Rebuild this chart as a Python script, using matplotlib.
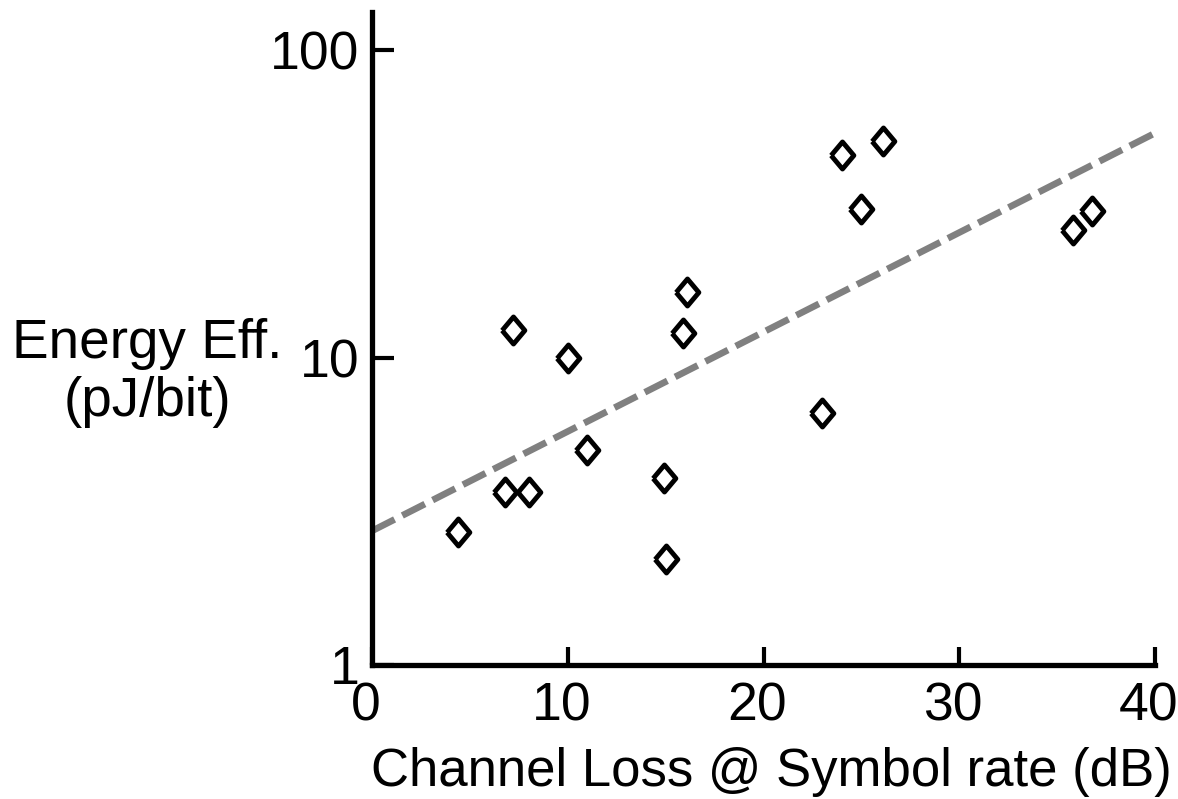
import numpy as np
import matplotlib
matplotlib.use("Agg")
import matplotlib.pyplot as plt
import matplotlib.transforms as mtransforms

plt.rcParams["font.family"] = ["Liberation Sans", "DejaVu Sans"]

# channel loss (dB) vs energy efficiency (pJ/bit)
loss = [4.4, 6.8, 8.0, 7.2, 10.0, 11.0, 14.9, 15.0, 15.9, 16.1,
        23.0, 24.0, 25.0, 26.1, 35.8, 36.8]
energy = [2.7, 3.65, 3.65, 12.3, 10.0, 5.0, 4.05, 2.22, 12.0, 16.3,
          6.6, 45.5, 30.5, 50.5, 26.0, 30.0]

# exponential trend line end points
trend_x = [0, 40]
trend_y = [2.73, 53.7]

fig = plt.figure(figsize=(11.78, 7.99), dpi=100)
ax = fig.add_axes([372 / 1178, (799 - 665) / 799, 783 / 1178, 653 / 799])

ax.plot(trend_x, trend_y, color="#808080", lw=4.8, dashes=(3.8, 1.3),
        solid_capstyle="butt", dash_capstyle="butt", zorder=1)

diamond = [(-0.42, 0), (0, 0.5), (0.42, 0), (0, -0.5), (-0.42, 0)]
ax.plot(loss, energy, ls="none", marker=diamond, ms=19.5, mfc="white",
        mec="black", mew=3.5, zorder=2)

ax.set_yscale("log")
ax.set_xlim(0, 40)
ax.set_ylim(1, 133)
ax.set_xticks([0, 10, 20, 30, 40])
ax.set_yticks([1, 10, 100])
ax.set_yticklabels(["1", "10", "100"])
ax.yaxis.set_minor_locator(matplotlib.ticker.NullLocator())

for s in ["top", "right"]:
    ax.spines[s].set_visible(False)
for s in ["left", "bottom"]:
    ax.spines[s].set_linewidth(3.8)

fs = 38.5
ax.tick_params(axis="x", direction="in", length=13, width=3, pad=12,
               labelsize=fs)
ax.tick_params(axis="y", direction="in", length=16, width=3, pad=9,
               labelsize=fs)

# nudge the x tick labels a little to the left
shift = mtransforms.ScaledTranslation(-0.06, 0, fig.dpi_scale_trans)
for lab in ax.get_xticklabels():
    lab.set_transform(lab.get_transform() + shift)

ax.set_xlabel("Channel Loss @ Symbol rate (dB)", fontsize=38, labelpad=12)
ax.xaxis.set_label_coords(0.51, -0.125)
ax.xaxis.label.set_va("top")
ax.set_ylabel("Energy Eff.\n(pJ/bit)", fontsize=39.5, rotation=0,
              ha="center", va="center", linespacing=1.15)
ax.yaxis.set_label_coords(-0.287, 0.447)

fig.savefig("out.png", dpi=100)
